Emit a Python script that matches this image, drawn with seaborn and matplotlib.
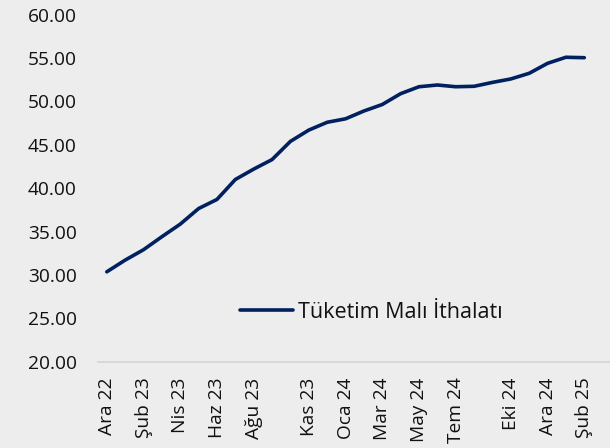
import numpy as np
import pandas as pd
import matplotlib
matplotlib.use('Agg')
import matplotlib.pyplot as plt
import seaborn as sns

# aylar (Ara 22 - Şub 25)
months = ['Ara 22', 'Oca 23', 'Şub 23', 'Mar 23', 'Nis 23', 'May 23', 'Haz 23',
          'Tem 23', 'Ağu 23', 'Eyl 23', 'Eki 23', 'Kas 23', 'Ara 23', 'Oca 24',
          'Şub 24', 'Mar 24', 'Nis 24', 'May 24', 'Haz 24', 'Tem 24', 'Ağu 24',
          'Eyl 24', 'Eki 24', 'Kas 24', 'Ara 24', 'Oca 25', 'Şub 25']
values = [30.35, 31.7, 32.9, 34.4, 35.85, 37.65, 38.7, 41.0, 42.2, 43.3, 45.4,
          46.7, 47.6, 48.0, 48.9, 49.65, 50.9, 51.7, 51.9, 51.7, 51.75, 52.2,
          52.6, 53.25, 54.4, 55.1, 55.05]
tick_labels = ['Ara 22', 'Şub 23', 'Nis 23', 'Haz 23', 'Ağu 23', 'Kas 23', 'Oca 24',
               'Mar 24', 'May 24', 'Tem 24', 'Eki 24', 'Ara 24', 'Şub 25']
series_name = 'Tüketim Malı İthalatı'

bg = '#EDEDED'
sns.set_style('white', {'axes.facecolor': bg, 'figure.facecolor': bg})
plt.rcParams['font.family'] = ['Open Sans', 'DejaVu Sans']

df = pd.DataFrame({'idx': np.arange(len(months)), 'value': values})

fig = plt.figure(figsize=(6.1, 4.48), dpi=100)
ax = fig.add_axes([0.16, 0.193, 0.84, 0.774])

sns.lineplot(data=df, x='idx', y='value', ax=ax, color='#002060',
             linewidth=2.6, label=series_name)

ax.set_ylim(20, 60)
ax.set_yticks(np.arange(20, 61, 5))
ax.set_yticklabels([f'{v:.2f}' for v in np.arange(20, 61, 5)])
ax.set_xlim(-0.5, 27.4)
tick_pos = [months.index(m) for m in tick_labels]
ax.set_xticks(tick_pos)
ax.set_xticklabels(tick_labels, rotation=90)
ax.tick_params(axis='both', length=0, labelsize=13.8, colors='#111111')
ax.tick_params(axis='y', pad=15)
ax.tick_params(axis='x', pad=11.5)
ax.set_xlabel('')
ax.set_ylabel('')

for s in ['top', 'right', 'left']:
    ax.spines[s].set_visible(False)
ax.spines['bottom'].set_color('#D4D4D4')
ax.spines['bottom'].set_linewidth(1.2)

leg = ax.legend(loc='center', bbox_to_anchor=(371 / 610, 1 - 312 / 448),
                bbox_transform=fig.transFigure, frameon=False, fontsize=15.5,
                handlelength=2.5, handletextpad=0.2)
for t in leg.get_texts():
    t.set_color('#111111')

fig.savefig('out.png', dpi=100, facecolor=bg)
